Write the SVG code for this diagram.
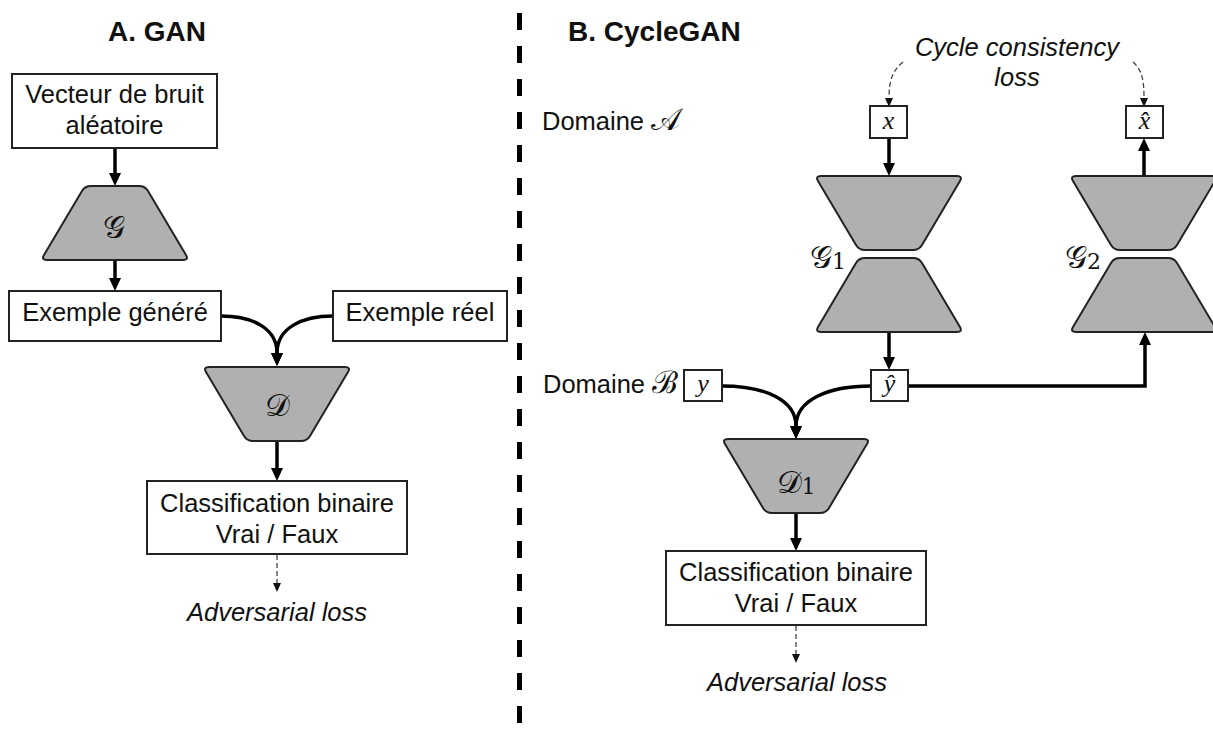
<svg xmlns="http://www.w3.org/2000/svg" width="1213" height="733" viewBox="0 0 1213 733">
<style>
  .box { fill: #ffffff; stroke: #222222; stroke-width: 2; }
  .trap { fill: #b0b0b0; stroke: #222222; stroke-width: 2; }
  .lbl { font-family: "Liberation Sans", Arial, sans-serif; font-size: 25.5px; fill: #111111; }
  .title { font-family: "Liberation Sans", Arial, sans-serif; font-size: 28px; font-weight: bold; fill: #111111; }
  .it { font-style: italic; }
  .math { font-family: "DejaVu Serif", "Liberation Serif", serif; font-size: 31px; fill: #111111; }
  .var { font-family: "Liberation Serif", "DejaVu Serif", serif; font-style: italic; font-size: 26px; fill: #111111; }
  .arrow { fill: none; stroke: #000000; stroke-width: 3.5; }
  .dash { fill: none; stroke: #444444; stroke-width: 1.3; stroke-dasharray: 5 3; }
  .div { stroke: #000000; stroke-width: 5; stroke-dasharray: 17 16; }
</style>
<defs>
  <marker id="ah" markerUnits="userSpaceOnUse" markerWidth="13" markerHeight="12" refX="0" refY="6" orient="auto">
    <path d="M0,0 L13,6 L0,12 z" fill="#000000"/>
  </marker>
  <marker id="ahs" markerUnits="userSpaceOnUse" markerWidth="9" markerHeight="8" refX="0" refY="4" orient="auto">
    <path d="M0,0 L9,4 L0,8 z" fill="#111111"/>
  </marker>
  <path id="trapUp" d="M -24,0 L 24,0 Q 30,0 33,5 L 71,69 Q 74,74 68,74 L -68,74 Q -74,74 -71,69 L -33,5 Q -30,0 -24,0 Z"/>
  <path id="trapDown" d="M -68,0 L 68,0 Q 74,0 71,5 L 33,69 Q 30,74 24,74 L -24,74 Q -30,74 -33,69 L -71,5 Q -74,0 -68,0 Z"/>
</defs>

<rect width="1213" height="733" fill="#ffffff"/>

<line class="div" x1="519.5" y1="13" x2="519.5" y2="733"/>

<text class="title" x="157" y="41" text-anchor="middle">A. GAN</text>
<text class="title" x="568" y="41">B. CycleGAN</text>

<g id="connectors">
  <line class="arrow" x1="115" y1="148" x2="115" y2="173" marker-end="url(#ah)"/>
  <line class="arrow" x1="115" y1="260" x2="115" y2="278" marker-end="url(#ah)"/>
  <path class="arrow" d="M221,316 C252,316 277,328 277,353" marker-end="url(#ah)"/>
  <path class="arrow" d="M333,316 C302,316 277,328 277,353" marker-end="url(#ah)"/>
  <line class="arrow" x1="277" y1="441" x2="277" y2="468" marker-end="url(#ah)"/>
  <line class="dash" x1="277" y1="555" x2="277" y2="583" marker-end="url(#ahs)"/>

  <line class="arrow" x1="889" y1="138" x2="889" y2="163" marker-end="url(#ah)"/>
  <line class="arrow" x1="1144" y1="176" x2="1144" y2="151" marker-end="url(#ah)"/>
  <line class="arrow" x1="889" y1="332" x2="889" y2="357" marker-end="url(#ah)"/>
  <polyline class="arrow" points="908,386 1145,386 1145,345" marker-end="url(#ah)"/>
  <path class="arrow" d="M722,386 C765,386 796,400 796,426" marker-end="url(#ah)"/>
  <path class="arrow" d="M871,386 C828,386 796,400 796,426" marker-end="url(#ah)"/>
  <line class="arrow" x1="796" y1="513" x2="796" y2="538" marker-end="url(#ah)"/>
  <line class="dash" x1="796" y1="626" x2="796" y2="654" marker-end="url(#ahs)"/>
  <path class="dash" d="M903,62 C893,70 889,80 889,98" marker-end="url(#ahs)"/>
  <path class="dash" d="M1133,62 C1142,70 1144,80 1144,98" marker-end="url(#ahs)"/>
</g>

<g id="noise">
  <rect class="box" x="12" y="74" width="205" height="74"/>
  <text class="lbl" x="114.5" y="103" text-anchor="middle">Vecteur de bruit</text>
  <text class="lbl" x="114.5" y="134" text-anchor="middle">aléatoire</text>
</g>
<g id="G">
  <use href="#trapUp" class="trap" transform="translate(115,186)"/>
  <text class="math" x="114" y="238" text-anchor="middle">𝒢</text>
</g>
<g id="generated">
  <rect class="box" x="9" y="291" width="212" height="50"/>
  <text class="lbl" x="115" y="321" text-anchor="middle">Exemple généré</text>
</g>
<g id="real">
  <rect class="box" x="333" y="291" width="174" height="50"/>
  <text class="lbl" x="420" y="321" text-anchor="middle">Exemple réel</text>
</g>
<g id="D">
  <use href="#trapDown" class="trap" transform="translate(277,367)"/>
  <text class="math" x="277" y="416" text-anchor="middle">𝒟</text>
</g>
<g id="classA">
  <rect class="box" x="147" y="481" width="260" height="73"/>
  <text class="lbl" x="277" y="512" text-anchor="middle">Classification binaire</text>
  <text class="lbl" x="277" y="543" text-anchor="middle">Vrai / Faux</text>
</g>
<g id="advA">
  <text class="lbl it" x="277" y="621" text-anchor="middle">Adversarial loss</text>
</g>

<g id="domA">
  <text class="lbl" x="542" y="130">Domaine <tspan class="math" font-size="26">𝒜</tspan></text>
</g>
<g id="domB">
  <text class="lbl" x="543" y="393">Domaine <tspan class="math" font-size="25">ℬ</tspan></text>
</g>
<g id="cycleloss">
  <text class="lbl it" x="1017" y="56" text-anchor="middle">Cycle consistency</text>
  <text class="lbl it" x="1017" y="86" text-anchor="middle">loss</text>
</g>
<g id="x">
  <rect class="box" x="870" y="106" width="37" height="32"/>
  <text class="var" x="888.5" y="129" text-anchor="middle">x</text>
</g>
<g id="xhat">
  <rect class="box" x="1126" y="106" width="37" height="32"/>
  <text class="var" x="1144.5" y="129" text-anchor="middle">x̂</text>
</g>
<g id="G1">
  <use href="#trapDown" class="trap" transform="translate(889,176)"/>
  <use href="#trapUp" class="trap" transform="translate(889,258)"/>
  <text class="math" x="810" y="268">𝒢<tspan font-size="22" dy="1">1</tspan></text>
</g>
<g id="G2">
  <use href="#trapDown" class="trap" transform="translate(1144,176)"/>
  <use href="#trapUp" class="trap" transform="translate(1144,258)"/>
  <text class="math" x="1065" y="268">𝒢<tspan font-size="22" dy="1">2</tspan></text>
</g>
<g id="y">
  <rect class="box" x="684" y="370" width="38" height="31"/>
  <text class="var" x="703" y="392" text-anchor="middle">y</text>
</g>
<g id="yhat">
  <rect class="box" x="871" y="370" width="37" height="31"/>
  <text class="var" x="889.5" y="392" text-anchor="middle">ŷ</text>
</g>
<g id="D1">
  <use href="#trapDown" class="trap" transform="translate(796,439)"/>
  <text class="math" x="796" y="493" text-anchor="middle">𝒟<tspan font-size="22" dy="1">1</tspan></text>
</g>
<g id="classB">
  <rect class="box" x="666" y="551" width="260" height="74"/>
  <text class="lbl" x="796" y="581" text-anchor="middle">Classification binaire</text>
  <text class="lbl" x="796" y="612" text-anchor="middle">Vrai / Faux</text>
</g>
<g id="advB">
  <text class="lbl it" x="797" y="691" text-anchor="middle">Adversarial loss</text>
</g>
</svg>
